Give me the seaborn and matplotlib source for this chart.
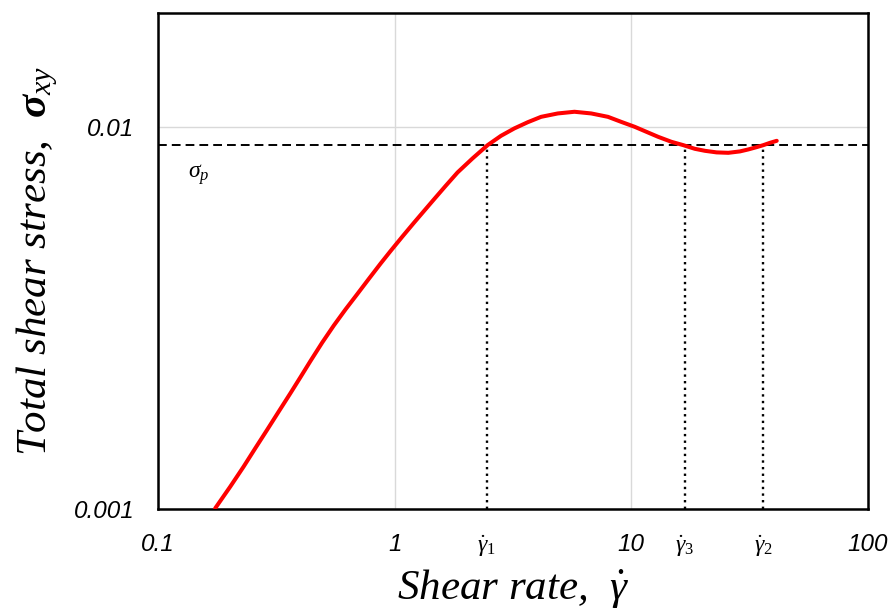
import matplotlib
matplotlib.use("Agg")
import matplotlib.pyplot as plt
import matplotlib.transforms as mtransforms
import seaborn as sns
import pandas as pd

# ---- data ----
shear_rate = [0.1744, 0.2019, 0.2298, 0.2576, 0.2888, 0.3234, 0.3625, 0.3997, 0.4406, 0.4939,
              0.5530, 0.6200, 0.6950, 0.7783, 0.8725, 0.962, 1.078, 1.207, 1.331, 1.468, 1.645,
              1.844, 2.134, 2.471, 2.813, 3.203, 3.650, 4.156, 4.891, 5.751, 6.769, 7.966, 9.070,
              10.33, 11.58, 12.98, 14.77, 16.56, 18.54, 20.45, 22.92, 25.69, 28.77, 31.22, 33.86,
              36.15, 38.55, 41.15]
shear_stress = [0.001004, 0.001144, 0.001290, 0.001442, 0.001610, 0.001798, 0.002009, 0.002213,
                0.002440, 0.002727, 0.003023, 0.003332, 0.003654, 0.004008, 0.004395, 0.004742,
                0.005169, 0.005620, 0.006033, 0.006476, 0.007026, 0.007610, 0.008283, 0.008972,
                0.009489, 0.009922, 0.01030, 0.01064, 0.01086, 0.01097, 0.01086, 0.01064, 0.01032,
                0.01002, 0.009721, 0.009432, 0.009153, 0.008972, 0.008775, 0.008670, 0.008587,
                0.008565, 0.008638, 0.008742, 0.008864, 0.008972, 0.009098, 0.009208]
sigma_p = 0.009
gamma_marks = [2.45, 16.8, 36.0]
gamma_labels = [r"$\dot{\gamma}_1$", r"$\dot{\gamma}_3$", r"$\dot{\gamma}_2$"]
x_ticks = [0.1, 1, 10, 100]
x_ticklabels = ["0.1", "1", "10", "100"]
y_ticks = [0.001, 0.01]
y_ticklabels = ["0.001", "0.01"]

sns.set_theme(style="white")
plt.rcParams["mathtext.fontset"] = "custom"
plt.rcParams["mathtext.rm"] = "Liberation Serif"
plt.rcParams["mathtext.it"] = "Liberation Serif:italic"
plt.rcParams["mathtext.bf"] = "Liberation Serif:bold:italic"
for k in ["text.color", "axes.labelcolor", "xtick.color", "ytick.color"]:
    plt.rcParams[k] = "black"

df = pd.DataFrame({"rate": shear_rate, "stress": shear_stress})

fig = plt.figure(figsize=(8.91, 6.11), dpi=100)
ax = fig.add_axes([158 / 891, 1 - 509 / 611, (868 - 158) / 891, (509 - 13) / 611])

ax.set_xscale("log")
ax.set_yscale("log")
ax.set_xlim(0.1, 100)
ax.set_ylim(0.001, 0.0199)

ax.grid(True, which="major", color="#d9d9d9", linewidth=1.0)
ax.grid(False, which="minor")
ax.set_axisbelow(True)

sns.lineplot(data=df, x="rate", y="stress", ax=ax, color="#ff0000", linewidth=2.9,
             sort=False, zorder=4)

ax.axhline(sigma_p, color="black", linestyle=(0, (4.5, 2.6)), linewidth=1.4, zorder=3)
ax.vlines(gamma_marks, 0.001, sigma_p, colors="black", linestyles=(0, (1, 1.8)),
          linewidth=1.7, zorder=3)

ax.set_xticks(x_ticks)
ax.set_xticklabels(x_ticklabels)
ax.set_yticks(y_ticks)
ax.set_yticklabels(y_ticklabels)
ax.minorticks_off()
ax.tick_params(axis="both", length=0, labelsize=17.5, pad=17)
for lab in ax.get_xticklabels() + ax.get_yticklabels():
    lab.set_fontstyle("italic")
    lab.set_fontfamily("Liberation Sans")

trans = mtransforms.blended_transform_factory(ax.transData, ax.transAxes)
for gx, gl in zip(gamma_marks, gamma_labels):
    ax.text(gx, -0.075, gl, transform=trans, ha="center", va="center", fontsize=17)

ax.text(0.148, 0.00752, r"$\sigma_p$", ha="center", va="center", fontsize=17)

for s in ax.spines.values():
    s.set_color("black")
    s.set_linewidth(1.8)
    s.set_visible(True)

ax.set_xlabel(r"Shear rate,  $\dot{\gamma}$", fontsize=31, fontstyle="italic",
              fontfamily="Liberation Serif", labelpad=8)
ax.set_ylabel(r"Total shear stress,  $\mathbf{\sigma}_{xy}$", fontsize=31, fontstyle="italic",
              fontfamily="Liberation Serif", labelpad=10)

fig.savefig("out.png", dpi=100)
